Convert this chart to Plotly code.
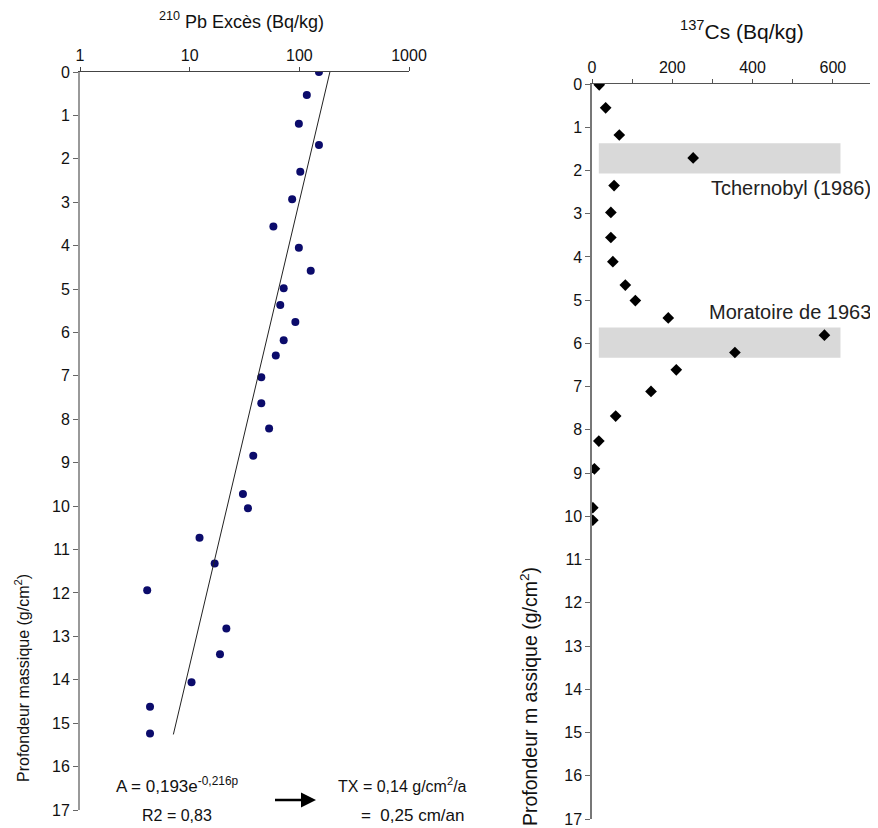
import plotly.graph_objects as go

# ---- 210Pb excess (left panel) ----
pb_depth = [0.0, 0.53, 1.19, 1.68, 2.30, 2.93, 3.56, 4.05, 4.58, 4.98, 5.37, 5.76,
            6.18, 6.53, 7.03, 7.63, 8.21, 8.84, 9.72, 10.05, 10.73, 11.32, 11.94,
            12.82, 13.41, 14.06, 14.62, 15.24]
pb_value = [151, 117, 99, 151, 102, 86, 58, 99, 127, 72, 67, 92,
            72, 61, 45, 45, 53, 38, 30.6, 34, 12.3, 16.9, 4.1,
            21.6, 18.9, 10.4, 4.35, 4.35]
fit_depth = [0.0, 15.26]
fit_value = [190, 7.1]

# ---- 137Cs (right panel) ----
cs_depth = [0.02, 0.55, 1.18, 1.71, 2.35, 2.97, 3.55, 4.11, 4.65, 5.01, 5.41, 5.81,
            6.21, 6.61, 7.11, 7.68, 8.26, 8.90, 9.80, 10.09]
cs_value = [18, 34, 68, 252, 55, 47, 47, 52, 83, 108, 190, 579,
            356, 210, 147, 59, 17, 6, 2, 2]

band_labels = ["Tchernobyl (1986)", "Moratoire de 1963"]
band_top = [1.37, 5.63]
band_bottom = [2.07, 6.33]
band_x0 = 17
band_x1 = 619
label_depth = [2.41, 5.28]

depth_ticks = list(range(0, 18))
pb_ticks = [1, 10, 100, 1000]

# page body has an 8px default margin: figure is sized to fill the rest
OFF = 8
W, H = 878 - OFF, 828 - OFF
FONT = "Liberation Sans, Arial, sans-serif"

fig = go.Figure()

fig.add_trace(go.Scatter(
    x=pb_value, y=pb_depth, mode="markers", xaxis="x", yaxis="y",
    marker=dict(symbol="circle", size=8, color="#0b0b6b"), showlegend=False))
fig.add_trace(go.Scatter(
    x=fit_value, y=fit_depth, mode="lines", xaxis="x", yaxis="y",
    line=dict(color="#222222", width=1), showlegend=False))
fig.add_trace(go.Scatter(
    x=cs_value, y=cs_depth, mode="markers", xaxis="x2", yaxis="y2",
    marker=dict(symbol="diamond", size=9, color="#000000"), showlegend=False))


def px(x):
    return (x - OFF) / W


def py(y):
    return 1 - (y - OFF) / H


def note(x, y, text, size, angle=0):
    return dict(xref="paper", yref="paper", x=px(x), y=py(y), text=text,
                showarrow=False, xanchor="center", yanchor="middle", textangle=angle,
                font=dict(family=FONT, size=size, color="#111"))


shapes = []
annotations = []
for lab, t, b, ld in zip(band_labels, band_top, band_bottom, label_depth):
    shapes.append(dict(type="rect", xref="x2", yref="y2", x0=band_x0, x1=band_x1,
                       y0=t, y1=b, fillcolor="#d9d9d9", line=dict(width=0), layer="below"))
    annotations.append(dict(xref="paper", yref="y2", x=px(873), y=ld, text=lab,
                            showarrow=False, xanchor="right", yanchor="middle",
                            font=dict(family=FONT, size=20, color="#222")))

annotations += [
    note(242, 20, "<sup>210</sup> Pb Excès (Bq/kg)", 18),
    note(742, 30, "<sup>137</sup>Cs (Bq/kg)", 21),
    note(22, 678, "Profondeur massique (g/cm<sup>2</sup>)", 16, -90),
    note(529, 697, "Profondeur m assique (g/cm<sup>2</sup>)", 19.5, -90),
    note(176.5, 785, "A = 0,193e<sup>-0,216p</sup>", 17),
    note(177, 815, "R2 = 0,83", 16),
    note(402, 785, "TX = 0,14 g/cm<sup>2</sup>/a", 16),
    note(412, 815, "=  0,25 cm/an", 17),
    dict(xref="paper", yref="paper", axref="pixel", ayref="pixel",
         x=px(316), y=py(800), ax=-44, ay=0, text=" ",
         showarrow=True, arrowhead=2, arrowsize=1.2, arrowwidth=2.5, arrowcolor="#000"),
]

tickfont = dict(family=FONT, size=16, color="#111")

fig.update_layout(
    width=W, height=H,
    margin=dict(l=0, r=0, t=0, b=0, autoexpand=False),
    paper_bgcolor="white", plot_bgcolor="white",
    shapes=shapes, annotations=annotations,
    xaxis=dict(type="log", range=[0, 3], domain=[px(80), px(409)], anchor="y",
               side="top", tickvals=pb_ticks, ticktext=[str(v) for v in pb_ticks],
               showgrid=False, zeroline=False, showline=True, linecolor="#444",
               linewidth=1, ticks="outside", ticklen=4, tickcolor="#444",
               tickfont=tickfont, automargin=False),
    yaxis=dict(range=[17, 0], domain=[py(810), py(72)], anchor="x",
               tickvals=depth_ticks, showgrid=False, zeroline=False, showline=True,
               linecolor="#999", linewidth=2, ticks="outside", ticklen=5,
               tickcolor="#666", tickfont=tickfont, automargin=False),
    xaxis2=dict(range=[0, 700], domain=[px(592), px(873)], anchor="y2",
                side="top", tick0=0, dtick=200,
                minor=dict(dtick=100, tick0=0, ticks="outside", ticklen=4,
                           tickcolor="#555", showgrid=False),
                showgrid=False, zeroline=False, showline=True, linecolor="#555",
                linewidth=1, ticks="outside", ticklen=4, tickcolor="#555",
                tickfont=dict(family=FONT, size=16, color="#111"), automargin=False),
    yaxis2=dict(range=[17, 0], domain=[py(819), py(84)], anchor="x2",
                tickvals=depth_ticks, showgrid=False, zeroline=False, showline=True,
                linecolor="#777", linewidth=1.5, ticks="outside", ticklen=5,
                tickcolor="#666", tickfont=dict(family=FONT, size=16, color="#111"),
                automargin=False),
)

fig.write_html("out.html")
